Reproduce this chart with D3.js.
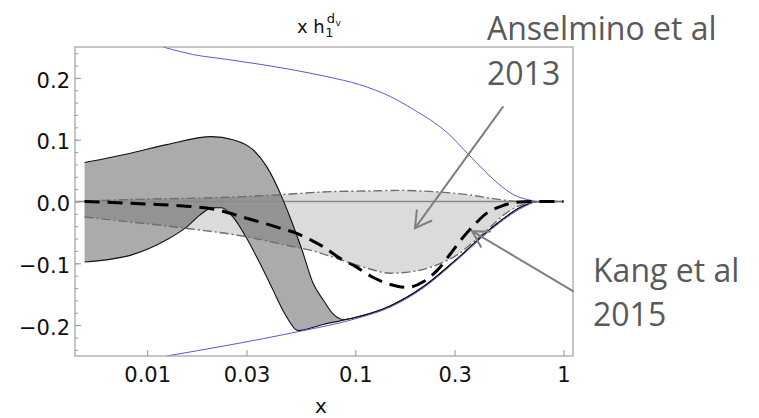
<!DOCTYPE html>
<html>
<head>
<meta charset="utf-8">
<script src="https://cdn.jsdelivr.net/npm/d3@7"></script>
<style>
  body { margin: 0; background: #fff; }
  svg { display: block; }
</style>
</head>
<body>
<svg id="chart" width="759" height="418"></svg>
<script>
// ---- data: x h1^{dv} transversity curves vs Bjorken x ----
// positivity (Soffer) bound, upper and lower branch
const boundUpper = [[0.0119,0.25],[0.0165,0.238],[0.0241,0.230],[0.0348,0.222],[0.0501,0.213],[0.0731,0.202],[0.105,0.189],[0.147,0.170],[0.190,0.149],[0.277,0.111],[0.350,0.076],[0.400,0.056],[0.482,0.030],[0.576,0.011],[0.695,0.002],[0.751,0],[1,0]];
const boundLower = [[0.0124,-0.25],[0.025,-0.232],[0.0525,-0.211],[0.102,-0.189],[0.147,-0.171],[0.212,-0.140],[0.310,-0.094],[0.447,-0.046],[0.644,-0.009],[0.751,0],[1,0]];

// Kang et al 2015 uncertainty band (edges)
const kangUpper = [[0.005,0.063],[0.0085,0.079],[0.0124,0.092],[0.0204,0.105],[0.0258,0.100],[0.0322,0.084],[0.0376,0.056],[0.0449,0.003],[0.0485,-0.025],[0.0554,-0.078],[0.0626,-0.132],[0.0700,-0.159],[0.0782,-0.182],[0.0873,-0.191],[0.102,-0.187],[0.147,-0.169],[0.212,-0.138],[0.310,-0.092],[0.447,-0.044],[0.644,-0.007],[0.751,0],[1,0]];
const kangLower = [[0.005,-0.098],[0.0085,-0.086],[0.0124,-0.062],[0.0155,-0.041],[0.0179,-0.022],[0.0206,-0.010],[0.0228,-0.010],[0.0258,-0.025],[0.0301,-0.060],[0.0348,-0.100],[0.0402,-0.143],[0.0459,-0.182],[0.0530,-0.209],[0.070,-0.199],[0.102,-0.187],[0.147,-0.169],[0.212,-0.138],[0.310,-0.092],[0.447,-0.044],[0.644,-0.007],[0.751,0],[1,0]];

// Anselmino et al 2013 band (edges) and central fit
const anselUpper = [[0.005,0.0005],[0.0099,0.004],[0.0206,0.006],[0.0435,0.011],[0.0757,0.016],[0.114,0.017],[0.164,0.018],[0.237,0.016],[0.346,0.011],[0.499,0.003],[0.602,0],[1,0]];
const anselLower = [[0.005,-0.025],[0.0068,-0.030],[0.016,-0.044],[0.030,-0.057],[0.0485,-0.072],[0.0626,-0.080],[0.0845,-0.094],[0.114,-0.108],[0.147,-0.116],[0.199,-0.112],[0.257,-0.100],[0.310,-0.086],[0.370,-0.065],[0.447,-0.041],[0.515,-0.022],[0.602,-0.008],[0.695,-0.002],[0.80,0],[1,0]];
const anselCentral = [[0.005,0],[0.0099,-0.004],[0.016,-0.008],[0.0206,-0.012],[0.030,-0.027],[0.0435,-0.043],[0.0526,-0.052],[0.0626,-0.064],[0.070,-0.073],[0.0845,-0.092],[0.100,-0.105],[0.122,-0.123],[0.159,-0.137],[0.178,-0.139],[0.212,-0.130],[0.248,-0.111],[0.286,-0.085],[0.331,-0.057],[0.370,-0.039],[0.431,-0.018],[0.50,-0.008],[0.576,-0.002],[0.70,0],[1,0]];

// axes
const xTickValues = [0.01, 0.03, 0.1, 0.3, 1];
const xTickLabels = ["0.01", "0.03", "0.1", "0.3", "1"];
const yTickValues = [-0.2, -0.1, 0.0, 0.1, 0.2];
const yTickLabels = ["\u22120.2", "\u22120.1", "0.0", "0.1", "0.2"];
const yMinorValues = d3.range(-24, 25, 2).map(v => v / 100);

// callouts: label lines, arrow tail and tip in data units
const callouts = [
  { lines: ["Anselmino et al", "2013"], tail: [0.512, 0.153], tip: [0.1935, -0.043] },
  { lines: ["Kang et al", "2015"], tail: [1.112, -0.145], tip: [0.364, -0.048] }
];

// ---- layout ----
const frame = { left: 75, right: 573, top: 47, bottom: 356 };
const svg = d3.select("#chart");

const x = d3.scaleLog()
  .domain([Math.pow(10, -2.347), Math.pow(10, 0.046)])
  .range([frame.left, frame.right]);
const y = d3.scaleLinear()
  .domain([-0.25, 0.25])
  .range([frame.bottom, frame.top]);

svg.append("defs").append("clipPath").attr("id", "plot-clip")
  .append("rect")
  .attr("x", frame.left).attr("y", frame.top)
  .attr("width", frame.right - frame.left)
  .attr("height", frame.bottom - frame.top);

const plot = svg.append("g").attr("clip-path", "url(#plot-clip)");

const line = d3.line()
  .x(d => x(d[0]))
  .y(d => y(d[1]))
  .curve(d3.curveMonotoneX);

function bandPath(upper, lower) {
  const up = line(upper);
  const down = line(lower.slice().reverse());
  return up + "L" + down.slice(1) + "Z";
}

// filled bands
plot.append("path")
  .attr("d", bandPath(anselUpper, anselLower))
  .attr("fill", "#000").attr("fill-opacity", 0.14);
plot.append("path")
  .attr("d", bandPath(kangUpper, kangLower))
  .attr("fill", "#000").attr("fill-opacity", 0.33);

// zero line
plot.append("line")
  .attr("x1", frame.left).attr("x2", x(1))
  .attr("y1", y(0)).attr("y2", y(0))
  .attr("stroke", "#8a8a8a").attr("stroke-width", 1.6);

// Kang band edges
[kangUpper, kangLower].forEach(s => {
  plot.append("path").attr("d", line(s))
    .attr("fill", "none").attr("stroke", "#111").attr("stroke-width", 1.1);
});

// positivity bounds
[boundUpper, boundLower].forEach(s => {
  plot.append("path").attr("d", line(s))
    .attr("fill", "none").attr("stroke", "#5a5ad2").attr("stroke-width", 1);
});

// Anselmino band edges (dash-dot)
[anselUpper, anselLower].forEach(s => {
  plot.append("path").attr("d", line(s))
    .attr("fill", "none").attr("stroke", "#6e6e6e").attr("stroke-width", 1.4)
    .attr("stroke-dasharray", "9,3,2,3");
});

// central fit (dashed)
plot.append("path").attr("d", line(anselCentral))
  .attr("fill", "none").attr("stroke", "#000").attr("stroke-width", 3)
  .attr("stroke-dasharray", "15,8");

// ---- frame and axes ----
svg.append("rect")
  .attr("x", frame.left).attr("y", frame.top)
  .attr("width", frame.right - frame.left)
  .attr("height", frame.bottom - frame.top)
  .attr("fill", "none").attr("stroke", "#a0a0a0").attr("stroke-width", 1.2);

const axisFont = "'DejaVu Sans', sans-serif";

const yMinor = svg.append("g").attr("transform", `translate(${frame.left},0)`)
  .call(d3.axisLeft(y).tickValues(yMinorValues).tickSize(-3).tickFormat(""));
const yAxis = svg.append("g").attr("transform", `translate(${frame.left},0)`)
  .call(d3.axisLeft(y).tickValues(yTickValues).tickSize(-6).tickPadding(5)
    .tickFormat((d, i) => yTickLabels[i]));
const xAxis = svg.append("g").attr("transform", `translate(0,${frame.bottom})`)
  .call(d3.axisBottom(x).tickValues(xTickValues).tickSize(-6).tickPadding(11)
    .tickFormat((d, i) => xTickLabels[i]));

[yMinor, yAxis, xAxis].forEach(g => {
  g.select(".domain").remove();
  g.selectAll(".tick line").attr("stroke", "#999").attr("stroke-width", 1);
  g.selectAll("text").attr("font-family", axisFont).attr("font-size", 21).attr("fill", "#111");
});
yAxis.selectAll("text").attr("dy", "0.44em");

// title  x h_1^{d_v}
const cx = (frame.left + frame.right) / 2;
const title = svg.append("g").attr("font-family", axisFont).attr("fill", "#111");
const main = title.append("text").attr("x", cx - 27).attr("y", 33)
  .attr("font-size", 18).text("x h");
const mw = main.node().getComputedTextLength();
title.append("text").attr("x", cx - 27 + mw + 0.5).attr("y", 37)
  .attr("font-size", 13).text("1");
const sup = title.append("text").attr("x", cx - 27 + mw + 2).attr("y", 23)
  .attr("font-size", 13).text("d");
const dw = sup.node().getComputedTextLength();
title.append("text").attr("x", cx - 27 + mw + 2 + dw + 0.5).attr("y", 26)
  .attr("font-size", 9).text("v");

// x axis label
svg.append("text").attr("x", cx - 3).attr("y", 413)
  .attr("text-anchor", "middle")
  .attr("font-family", axisFont).attr("font-size", 20).attr("fill", "#111")
  .text("x");

// ---- callouts ----
const labelPos = [{ x: 487, y: 40 }, { x: 593, y: 282 }];
const lineGap = [45, 44];
callouts.forEach((c, i) => {
  const t = svg.append("text")
    .attr("font-family", "'Open Sans', sans-serif")
    .attr("font-size", 32).attr("fill", "#595959");
  c.lines.forEach((s, j) => {
    t.append("tspan").attr("x", labelPos[i].x).attr("y", labelPos[i].y + j * lineGap[i]).text(s);
  });

  const x0 = x(c.tail[0]), y0 = y(c.tail[1]);
  const x1 = x(c.tip[0]), y1 = y(c.tip[1]);
  const ang = Math.atan2(y0 - y1, x0 - x1);
  const len = 18, spread = Math.PI / 6;
  const a1 = [x1 + len * Math.cos(ang + spread), y1 + len * Math.sin(ang + spread)];
  const a2 = [x1 + len * Math.cos(ang - spread), y1 + len * Math.sin(ang - spread)];
  const g = svg.append("g").attr("stroke", "#7f7f7f").attr("stroke-width", 2)
    .attr("fill", "none").attr("stroke-linecap", "round");
  g.append("line").attr("x1", x0).attr("y1", y0).attr("x2", x1).attr("y2", y1);
  g.append("path").attr("d", `M${a1[0]},${a1[1]}L${x1},${y1}L${a2[0]},${a2[1]}`);
});
</script>
</body>
</html>
